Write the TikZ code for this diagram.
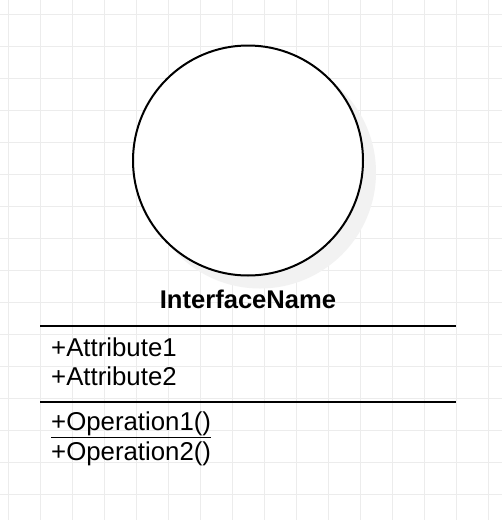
\documentclass[tikz,border=0pt]{standalone}
\usepackage{fontspec}
\setmainfont{Liberation Sans}
\definecolor{gridc}{gray}{0.925}
\definecolor{shadowc}{gray}{0.95}
\begin{document}
\begin{tikzpicture}[x=1pt,y=-1pt,
  umltext/.style={inner sep=0pt, anchor=base west, font=\fontsize{25.8}{30}\selectfont},
  umltitle/.style={inner sep=0pt, anchor=base, font=\fontsize{25.6}{30}\selectfont\bfseries},
  sepline/.style={line width=2pt},
  gridline/.style={draw=gridc, line width=1pt}]
\useasboundingbox (0,0) rectangle (502,520);
\fill[white] (0,0) rectangle (502,520);
\foreach \x in {8,40,...,488} \draw[gridline] (\x,0) -- (\x,520);
\foreach \y in {14,46,...,494} \draw[gridline] (0,\y) -- (502,\y);
% shadow
\fill[shadowc] (260,172.5) circle[radius=116];
% interface circle
\node[circle, draw, fill=white, line width=2pt, minimum size=230pt, inner sep=0pt] (iface) at (248,160.5) {};
% title
\node[umltitle] (title) at (248,308) {InterfaceName};
% separators
\coordinate (s1a) at (40,325.5);
\coordinate (s1b) at (456,325.5);
\coordinate (s2a) at (40,401.5);
\coordinate (s2b) at (456,401.5);
\draw[sepline] (s1a) -- (s1b);
\draw[sepline] (s2a) -- (s2b);
% attributes
\node[umltext] (attr1) at (51,356) {+Attribute1};
\node[umltext] (attr2) at (51,385) {+Attribute2};
% operations
\node[umltext] (op1) at (51,430) {+Operation1()};
\node[umltext] (op2) at (51,460) {+Operation2()};
\draw[line width=1.6pt] ([yshift=-7.3pt]op1.base west) -- ([yshift=-7.3pt]op1.base east);
\end{tikzpicture}
\end{document}
